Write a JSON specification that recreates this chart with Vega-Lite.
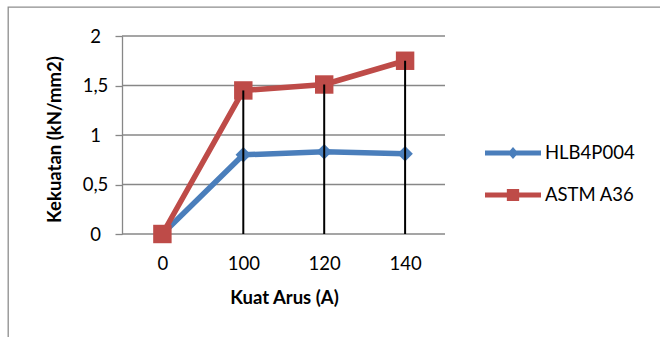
{
  "$schema": "https://vega.github.io/schema/vega-lite/v6.json",
  "width": 662,
  "height": 340,
  "autosize": {"type": "none"},
  "padding": {"left": 8, "top": 7, "right": -10, "bottom": -10},
  "background": "#ffffff",
  "config": {
    "view": {"stroke": "#8d8d8d", "strokeWidth": 1.3},
    "font": "Lato",
    "axisY": {
      "offset": -114,
      "grid": false,
      "domainColor": "#878787",
      "domainWidth": 1.3,
      "tickColor": "#878787",
      "tickWidth": 1.3,
      "tickSize": 7,
      "labelFont": "Lato",
      "labelFontSize": 18.5,
      "labelColor": "#000000",
      "labelAlign": "center",
      "labelBaseline": "middle",
      "labelPadding": 20,
      "titleFont": "Lato",
      "titleFontSize": 18.5,
      "titleFontWeight": "bold",
      "titleColor": "#000000",
      "titleAngle": -90,
      "titleBaseline": "middle",
      "titleAlign": "center",
      "titleX": -68,
      "titleY": 132
    },
    "axisX": {
      "offset": -113,
      "grid": false,
      "domain": false,
      "ticks": false,
      "labelAngle": 0,
      "labelFont": "Lato",
      "labelFontSize": 18.5,
      "labelColor": "#000000",
      "labelPadding": 20,
      "titleFont": "Lato",
      "titleFontSize": 18.5,
      "titleFontWeight": "bold",
      "titleColor": "#000000",
      "titleBaseline": "alphabetic",
      "titleAlign": "center",
      "titleX": 276,
      "titleY": 69
    }
  },
  "datasets": {
    "kekuatan": [
      {"arus": 0, "seri": "HLB4P004", "nilai": 0},
      {"arus": 100, "seri": "HLB4P004", "nilai": 0.8},
      {"arus": 120, "seri": "HLB4P004", "nilai": 0.83},
      {"arus": 140, "seri": "HLB4P004", "nilai": 0.81},
      {"arus": 0, "seri": "ASTM A36", "nilai": 0},
      {"arus": 100, "seri": "ASTM A36", "nilai": 1.45},
      {"arus": 120, "seri": "ASTM A36", "nilai": 1.51},
      {"arus": 140, "seri": "ASTM A36", "nilai": 1.75}
    ],
    "garis": [
      {"nilai": 0}, {"nilai": 0.5}, {"nilai": 1}, {"nilai": 1.5}, {"nilai": 2}
    ]
  },
  "layer": [
    {
      "data": {"name": "garis"},
      "mark": {"type": "rule", "color": "#878787", "strokeWidth": 1.3},
      "encoding": {
        "x": {"datum": 0, "type": "quantitative", "scale": {"domain": [0, 1], "range": [114, 437]}, "axis": null},
        "x2": {"datum": 1},
        "y": {
          "field": "nilai", "type": "quantitative",
          "scale": {"domain": [0, 2], "range": [227, 29], "nice": false, "zero": true},
          "axis": {"values": [0, 0.5, 1, 1.5, 2], "labelExpr": "replace(format(datum.value, '~g'), '.', ',')"},
          "title": "Kekuatan (kN/mm2)"
        }
      }
    },
    {
      "layer": [
        {
          "transform": [{"filter": "datum.seri === 'HLB4P004'"}],
          "mark": {"type": "line", "strokeWidth": 5.5, "strokeCap": "round", "strokeJoin": "round"},
          "encoding": {
            "color": {
              "field": "seri", "type": "nominal",
              "scale": {"domain": ["HLB4P004", "ASTM A36"], "range": ["#4a7ebb", "#be4b48"]},
              "legend": {
                "orient": "none", "legendX": 477, "legendY": 118, "title": null,
                "symbolSize": 3136, "labelFont": "Lato", "labelFontSize": 18.5, "labelColor": "#000000",
                "labelOffset": 4, "rowPadding": 4,
                "encode": {"symbols": {"update": {
                  "shape": {"signal": "datum.value === 'HLB4P004' ? 'M-1,-0.09L1,-0.09L1,0.09L-1,0.09Z M0,-0.21L0.19,0L0,0.21L-0.19,0Z' : 'M-1,-0.09L1,-0.09L1,0.09L-1,0.09Z M-0.22,-0.21L0.22,-0.21L0.22,0.21L-0.22,0.21Z'"},
                  "fill": {"signal": "datum.value === 'HLB4P004' ? '#4a7ebb' : '#be4b48'"},
                  "stroke": {"value": "transparent"},
                  "strokeWidth": {"value": 0},
                  "opacity": {"value": 1}
                }}}
              }
            }
          }
        },
        {
          "transform": [{"filter": "datum.seri === 'HLB4P004'"}],
          "mark": {"type": "point", "shape": "diamond", "filled": true, "opacity": 1, "size": 240, "color": "#4a7ebb"},
          "encoding": {}
        },
        {
          "transform": [{"filter": "datum.seri === 'ASTM A36'"}],
          "mark": {"type": "line", "strokeWidth": 5.5, "strokeCap": "round", "strokeJoin": "round"},
          "encoding": {
            "color": {
              "field": "seri", "type": "nominal",
              "scale": {"domain": ["HLB4P004", "ASTM A36"], "range": ["#4a7ebb", "#be4b48"]},
              "legend": {
                "orient": "none", "legendX": 477, "legendY": 118, "title": null,
                "symbolSize": 3136, "labelFont": "Lato", "labelFontSize": 18.5, "labelColor": "#000000",
                "labelOffset": 4, "rowPadding": 4,
                "encode": {"symbols": {"update": {
                  "shape": {"signal": "datum.value === 'HLB4P004' ? 'M-1,-0.09L1,-0.09L1,0.09L-1,0.09Z M0,-0.21L0.19,0L0,0.21L-0.19,0Z' : 'M-1,-0.09L1,-0.09L1,0.09L-1,0.09Z M-0.22,-0.21L0.22,-0.21L0.22,0.21L-0.22,0.21Z'"},
                  "fill": {"signal": "datum.value === 'HLB4P004' ? '#4a7ebb' : '#be4b48'"},
                  "stroke": {"value": "transparent"},
                  "strokeWidth": {"value": 0},
                  "opacity": {"value": 1}
                }}}
              }
            }
          }
        },
        {
          "transform": [{"filter": "datum.seri === 'ASTM A36'"}],
          "mark": {"type": "point", "shape": "square", "filled": true, "opacity": 1, "size": 340, "color": "#be4b48"},
          "encoding": {}
        },
        {
          "transform": [{"filter": "datum.seri === 'ASTM A36' && datum.arus > 0"}],
          "mark": {"type": "rule", "color": "#000000", "strokeWidth": 2},
          "encoding": {"y2": {"datum": 0}}
        }
      ],
      "data": {"name": "kekuatan"},
      "encoding": {
        "x": {
          "field": "arus", "type": "ordinal",
          "scale": {"type": "point", "range": [154.4, 397.1], "padding": 0},
          "title": "Kuat Arus (A)"
        },
        "y": {
          "field": "nilai", "type": "quantitative",
          "scale": {"domain": [0, 2], "range": [227, 29], "nice": false, "zero": true},
          "axis": {"values": [0, 0.5, 1, 1.5, 2], "labelExpr": "replace(format(datum.value, '~g'), '.', ',')"},
          "title": "Kekuatan (kN/mm2)"
        }
      }
    }
  ],
  "resolve": {"scale": {"x": "independent"}, "axis": {"x": "independent"}}
}
